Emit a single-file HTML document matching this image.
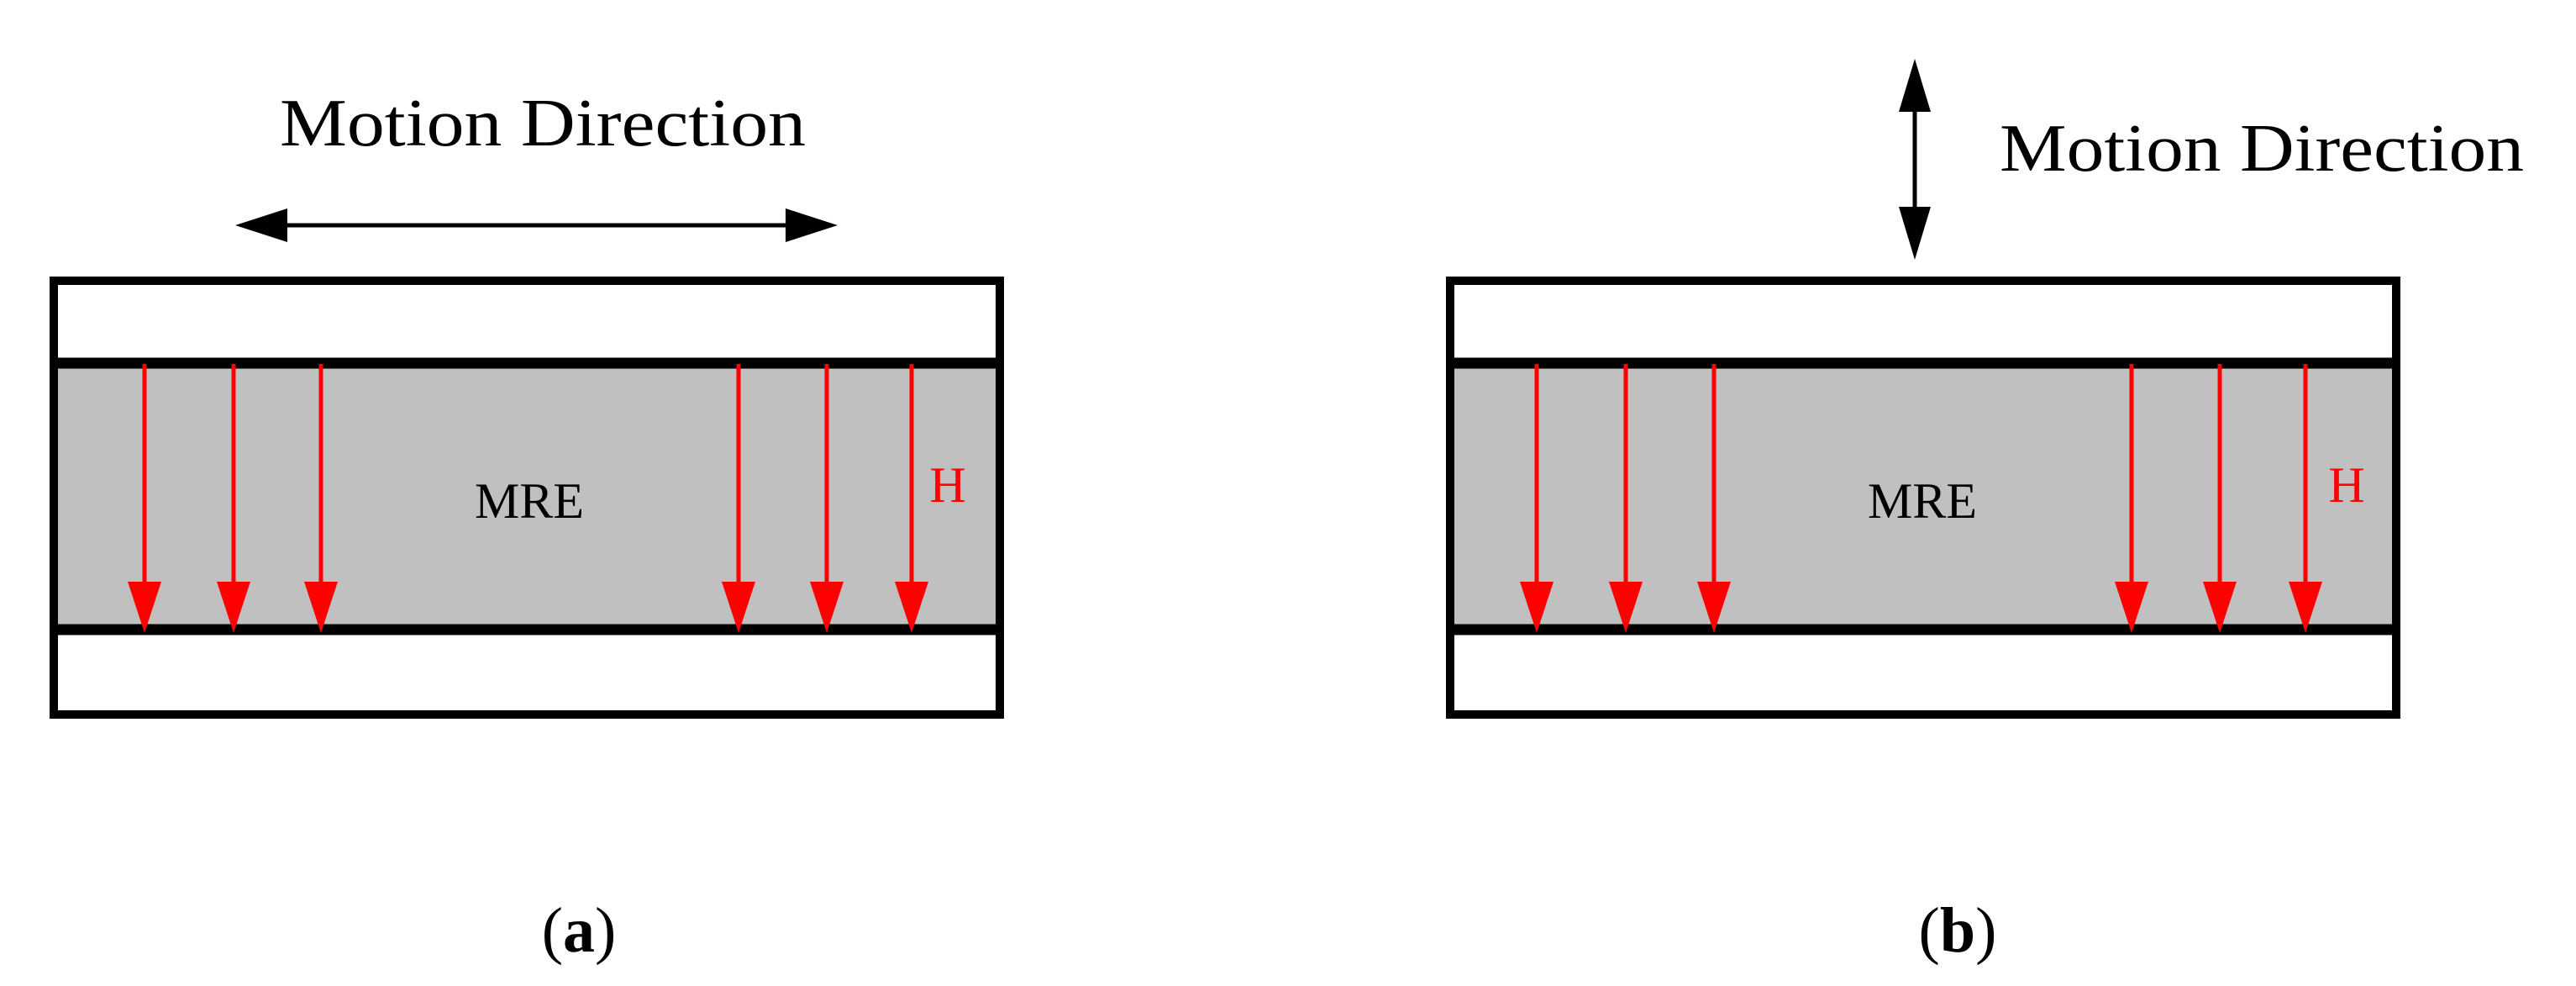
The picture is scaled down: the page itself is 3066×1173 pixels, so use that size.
<!DOCTYPE html>
<html><head><meta charset="utf-8"><style>html,body{margin:0;padding:0;background:#fff}svg{display:block}</style></head>
<body>
<svg width="3066" height="1173" viewBox="0 0 3066 1173" xmlns="http://www.w3.org/2000/svg" font-family="'Liberation Serif', serif">
<defs>
<g id="panel">
  <rect x="0" y="0" width="1126" height="516" fill="#fff"/>
  <rect x="0" y="98" width="1126" height="317" fill="#c0c0c0"/>
  <line x1="0" y1="98" x2="1126" y2="98" stroke="#000" stroke-width="13"/>
  <line x1="0" y1="415" x2="1126" y2="415" stroke="#000" stroke-width="13"/>
  <rect x="0" y="0" width="1126" height="516" fill="none" stroke="#000" stroke-width="10"/>
</g>
</defs>
<!-- panel a -->
<use href="#panel" x="64" y="334"/>
<g stroke="#f00" stroke-width="5">
<line x1="172" y1="433" x2="172" y2="700"/><line x1="278" y1="433" x2="278" y2="700"/><line x1="382" y1="433" x2="382" y2="700"/>
<line x1="879" y1="433" x2="879" y2="700"/><line x1="984" y1="433" x2="984" y2="700"/><line x1="1085" y1="433" x2="1085" y2="700"/>
</g>
<g fill="#f00">
<polygon points="152,692 192,692 172,753"/><polygon points="258,692 298,692 278,753"/><polygon points="362,692 402,692 382,753"/>
<polygon points="859,692 899,692 879,753"/><polygon points="964,692 1004,692 984,753"/><polygon points="1065,692 1105,692 1085,753"/>
</g>
<text x="630" y="616" font-size="60" text-anchor="middle" fill="#000">MRE</text>
<text x="1128" y="597" font-size="60" text-anchor="middle" fill="#f00">H</text>
<text x="333" y="173" font-size="80" textLength="626" lengthAdjust="spacingAndGlyphs" fill="#000">Motion Direction</text>
<line x1="330" y1="268" x2="950" y2="268" stroke="#000" stroke-width="5"/>
<polygon points="280,268 342,248 342,288" fill="#000"/>
<polygon points="997,268 935,248 935,288" fill="#000"/>
<text x="689" y="1132" font-size="76" text-anchor="middle" fill="#000">(<tspan font-weight="bold">a</tspan>)</text>

<!-- panel b -->
<use href="#panel" x="1726" y="334"/>
<g stroke="#f00" stroke-width="5">
<line x1="1829" y1="433" x2="1829" y2="700"/><line x1="1935" y1="433" x2="1935" y2="700"/><line x1="2040" y1="433" x2="2040" y2="700"/>
<line x1="2537" y1="433" x2="2537" y2="700"/><line x1="2642" y1="433" x2="2642" y2="700"/><line x1="2744" y1="433" x2="2744" y2="700"/>
</g>
<g fill="#f00">
<polygon points="1809,692 1849,692 1829,753"/><polygon points="1915,692 1955,692 1935,753"/><polygon points="2020,692 2060,692 2040,753"/>
<polygon points="2517,692 2557,692 2537,753"/><polygon points="2622,692 2662,692 2642,753"/><polygon points="2724,692 2764,692 2744,753"/>
</g>
<text x="2288" y="616" font-size="60" text-anchor="middle" fill="#000">MRE</text>
<text x="2793" y="597" font-size="60" text-anchor="middle" fill="#f00">H</text>
<text x="2380" y="203" font-size="80" textLength="624" lengthAdjust="spacingAndGlyphs" fill="#000">Motion Direction</text>
<line x1="2279" y1="120" x2="2279" y2="265" stroke="#000" stroke-width="5"/>
<polygon points="2279,70 2260,133 2298,133" fill="#000"/>
<polygon points="2279,309 2260,246 2298,246" fill="#000"/>
<text x="2330" y="1132" font-size="76" text-anchor="middle" fill="#000">(<tspan font-weight="bold">b</tspan>)</text>
</svg>
</body></html>
